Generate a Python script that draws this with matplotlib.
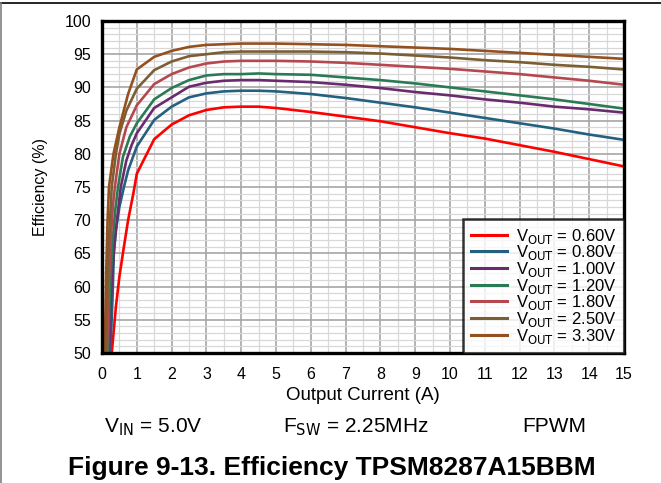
import matplotlib
matplotlib.use("Agg")
import matplotlib.pyplot as plt
from matplotlib.lines import Line2D
from matplotlib.ticker import MultipleLocator

plt.rcParams['font.family'] = ['Liberation Sans', 'DejaVu Sans']

labels = ["0.60V", "0.80V", "1.00V", "1.20V", "1.80V", "2.50V", "3.30V"]
colors = ["#ff0000", "#24607f", "#6a2b6e", "#2b7a56", "#b5484f", "#7b5e34", "#955020"]

tail_i = [1.5, 2.0, 2.5, 3.0, 3.5, 4.0, 4.5, 5, 6, 7, 8, 9, 10, 11, 12, 13, 14, 15]

i_060 = [0.28, 0.4, 0.5, 0.6, 0.75, 0.9, 1.0] + tail_i
e_060 = [50, 57, 61.5, 65, 70, 74, 77, 82.2, 84.4, 85.8, 86.6, 87.0, 87.1, 87.1, 86.9,
         86.3, 85.6, 84.9, 84.0, 83.1, 82.3, 81.3, 80.3, 79.2, 78.1]

i_080 = [0.24, 0.3, 0.34, 0.4, 0.5, 0.63, 0.75, 1.0] + tail_i
e_080 = [50, 58, 65, 68.5, 72, 75, 77.5, 81.1, 85.1, 87.1, 88.5, 89.1, 89.4, 89.5, 89.5,
         89.4, 89.0, 88.4, 87.7, 87.0, 86.2, 85.4, 84.6, 83.8, 82.9, 82.1]

i_100 = [0.2, 0.27, 0.35, 0.45, 0.54, 0.7, 0.85, 1.0] + tail_i
e_100 = [50, 60, 66, 71, 75, 79, 81.3, 83.1, 86.9, 88.5, 90.1, 90.7, 91.0, 91.1, 91.1,
         91.0, 90.8, 90.4, 89.9, 89.3, 88.8, 88.2, 87.7, 87.1, 86.7, 86.2]

i_120 = [0.17, 0.23, 0.3, 0.38, 0.46, 0.6, 0.8, 1.0] + tail_i
e_120 = [50, 60, 66.5, 71.5, 75, 79.5, 82.6, 84.6, 88.2, 89.9, 91.1, 91.8, 92.0, 92.0, 92.1,
         92.0, 91.9, 91.5, 91.1, 90.6, 90.0, 89.4, 88.8, 88.2, 87.5, 86.8]

i_180 = [0.14, 0.19, 0.25, 0.31, 0.37, 0.5, 0.7, 1.0] + tail_i
e_180 = [50, 60, 67, 72, 75, 80, 84, 87.3, 90.5, 92.0, 93.0, 93.6, 93.9, 94.0, 94.0,
         94.0, 93.9, 93.7, 93.4, 93.1, 92.8, 92.4, 92.0, 91.5, 91.0, 90.4]

i_250 = [0.11, 0.16, 0.21, 0.28, 0.4, 0.5, 0.7, 1.0] + tail_i
e_250 = [50, 60, 68, 75, 80, 83, 86.5, 89.8, 92.6, 93.9, 94.7, 95.0, 95.3, 95.4, 95.4,
         95.4, 95.4, 95.3, 95.1, 94.8, 94.5, 94.1, 93.8, 93.4, 93.1, 92.7]

i_330 = [0.08, 0.12, 0.16, 0.2, 0.33, 0.5, 0.75, 1.0] + tail_i
e_330 = [50, 62, 70, 75, 80, 84, 89, 92.7, 94.6, 95.5, 96.1, 96.4, 96.5, 96.6, 96.6,
         96.6, 96.5, 96.4, 96.2, 96.0, 95.8, 95.5, 95.2, 94.9, 94.6, 94.3]

series_i = [i_060, i_080, i_100, i_120, i_180, i_250, i_330]
series_e = [e_060, e_080, e_100, e_120, e_180, e_250, e_330]

fig = plt.figure(figsize=(6.61, 4.83), dpi=100)
ax = fig.add_axes([102/661, 1-353/483, (624-102)/661, (353-21)/483])

for xi, ye, lab, c in zip(series_i, series_e, labels, colors):
    ax.plot(xi, ye, color=c, lw=1.9, label=r"V$_{\mathrm{OUT}}$ = " + lab, clip_on=True)

ax.set_xlim(0, 15)
ax.set_ylim(50, 100)
ax.xaxis.set_major_locator(MultipleLocator(1))
ax.xaxis.set_minor_locator(MultipleLocator(0.5))
ax.yaxis.set_major_locator(MultipleLocator(5))
ax.yaxis.set_minor_locator(MultipleLocator(1))
ax.grid(which='major', color='#a6a6a6', lw=1.2, zorder=0)
ax.grid(which='minor', color='#d8d8d8', lw=0.9, zorder=0)
ax.set_axisbelow(True)
ax.tick_params(which='both', length=0, labelsize=11.5)
ax.tick_params(axis='y', pad=8)
ax.tick_params(axis='x', pad=10)
for s in ax.spines.values():
    s.set_linewidth(2.4)
    s.set_color('black')

ax.set_xlabel("Output Current (A)", fontsize=13.5, labelpad=4)
ax.set_ylabel("Efficiency (%)", fontsize=11.5, labelpad=12)

leg = ax.legend(loc='lower right', borderaxespad=0, fontsize=12, frameon=True,
                fancybox=False, handlelength=2.2, labelspacing=-0.14,
                borderpad=0.45, handletextpad=0.5)
leg.get_frame().set_edgecolor('black')
leg.get_frame().set_linewidth(1.8)
for l in leg.get_lines():
    l.set_linewidth(2.2)

fig.text(153/661, 1-427/483, r"V$_{\mathrm{IN}}$ = 5.0V", ha='center', va='center', fontsize=15)
fig.text(356/661, 1-427/483, r"F$_{\mathrm{SW}}$ = 2.25MHz", ha='center', va='center', fontsize=15)
fig.text(554/661, 1-427/483, "FPWM", ha='center', va='center', fontsize=15)
fig.text(332/661, 1-468/483, "Figure 9-13. Efficiency TPSM8287A15BBM", ha='center', va='center',
         fontsize=19, fontweight='bold')

fig.add_artist(Line2D([0, 1], [1-3/483, 1-3/483], color='black', lw=1.2, transform=fig.transFigure))
fig.add_artist(Line2D([0.5/661, 0.5/661], [0, 1-3/483], color='#808080', lw=1.2, transform=fig.transFigure))

fig.savefig("out.png", dpi=100)
